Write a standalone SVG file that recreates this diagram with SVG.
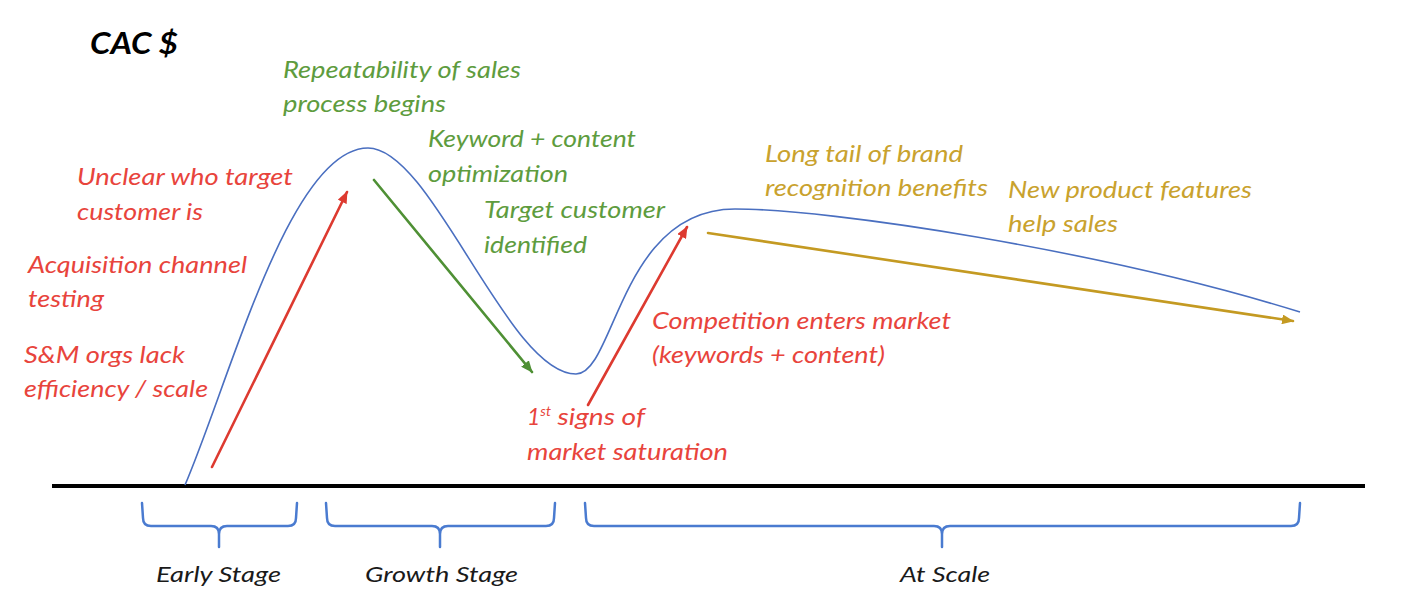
<svg xmlns="http://www.w3.org/2000/svg" width="1410" height="598" viewBox="0 0 1410 598">
<style>
  text { font-family: Lato, "Open Sans", "Liberation Sans", sans-serif; font-style: italic; font-size: 23px; }
  .red { fill: #E8443C; }
  .green { fill: #5E9C3E; }
  .gold { fill: #C9A22E; }
  .stage { fill: #1a1a1a; font-size: 21px; }
  .title { fill: #000; font-weight: bold; font-size: 30px; }
  .brace { fill: none; stroke: #4A7BD0; stroke-width: 2.5; stroke-linecap: round; stroke-linejoin: round; }
  .curve { fill: none; stroke: #4A6FC0; stroke-width: 1.6; }
  .arr { fill: none; stroke-width: 2.6; stroke-linecap: round; }
</style>
<defs>
  <marker id="hRed" viewBox="0 0 12 10" refX="11" refY="5" markerWidth="12" markerHeight="10" markerUnits="userSpaceOnUse" orient="auto">
    <path d="M0,0 L12,5 L0,10 Z" fill="#DD3A30"/>
  </marker>
  <marker id="hGreen" viewBox="0 0 12 10" refX="11" refY="5" markerWidth="12" markerHeight="10" markerUnits="userSpaceOnUse" orient="auto">
    <path d="M0,0 L12,5 L0,10 Z" fill="#4F9035"/>
  </marker>
  <marker id="hGold" viewBox="0 0 12 10" refX="11" refY="5" markerWidth="12" markerHeight="10" markerUnits="userSpaceOnUse" orient="auto">
    <path d="M0,0 L12,5 L0,10 Z" fill="#C49A22"/>
  </marker>
</defs>
<rect width="1410" height="598" fill="#fff"/>

<g id="axis">
  <line x1="52" y1="486" x2="1365" y2="486" stroke="#000" stroke-width="4"/>
</g>

<g id="cac-curve">
  <path class="curve" d="M185,485 C230,380 290,148 368,148 C432,148 508,374 576,374 C615,374 620,209 735,209 C830,209 1100,250 1300,312"/>
</g>

<g id="connectors">
  <line class="arr" x1="212" y1="467" x2="347" y2="192" stroke="#DD3A30" marker-end="url(#hRed)"/>
  <line class="arr" x1="374" y1="180" x2="532" y2="372" stroke="#4F9035" marker-end="url(#hGreen)"/>
  <line class="arr" x1="588" y1="405" x2="687" y2="227" stroke="#DD3A30" marker-end="url(#hRed)"/>
  <line class="arr" x1="708" y1="233" x2="1293" y2="321" stroke="#C49A22" marker-end="url(#hGold)"/>
</g>

<g id="title">
  <text class="title" x="90" y="54" textLength="88" lengthAdjust="spacingAndGlyphs">CAC $</text>
</g>

<g id="label-repeatability">
  <text class="green" x="283" y="78" textLength="238" lengthAdjust="spacingAndGlyphs">Repeatability of sales</text>
  <text class="green" x="283" y="112" textLength="163" lengthAdjust="spacingAndGlyphs">process begins</text>
</g>
<g id="label-keyword">
  <text class="green" x="428" y="147" textLength="208" lengthAdjust="spacingAndGlyphs">Keyword + content</text>
  <text class="green" x="428" y="182" textLength="140" lengthAdjust="spacingAndGlyphs">optimization</text>
</g>
<g id="label-target">
  <text class="green" x="484" y="218" textLength="181" lengthAdjust="spacingAndGlyphs">Target customer</text>
  <text class="green" x="484" y="253" textLength="103" lengthAdjust="spacingAndGlyphs">identified</text>
</g>
<g id="label-unclear">
  <text class="red" x="77" y="185" textLength="216" lengthAdjust="spacingAndGlyphs">Unclear who target</text>
  <text class="red" x="77" y="220" textLength="126" lengthAdjust="spacingAndGlyphs">customer is</text>
</g>
<g id="label-acquisition">
  <text class="red" x="28" y="273" textLength="219" lengthAdjust="spacingAndGlyphs">Acquisition channel</text>
  <text class="red" x="28" y="307" textLength="76" lengthAdjust="spacingAndGlyphs">testing</text>
</g>
<g id="label-sm">
  <text class="red" x="24" y="363" textLength="161" lengthAdjust="spacingAndGlyphs">S&amp;M orgs lack</text>
  <text class="red" x="24" y="397" textLength="184" lengthAdjust="spacingAndGlyphs">efficiency / scale</text>
</g>
<g id="label-saturation">
  <text class="red" x="527" y="425" font-size="24">1<tspan font-size="14" dy="-9">st</tspan><tspan dy="9" textLength="94" lengthAdjust="spacingAndGlyphs"> signs of</tspan></text>
  <text class="red" x="527" y="460" textLength="201" lengthAdjust="spacingAndGlyphs">market saturation</text>
</g>
<g id="label-competition">
  <text class="red" x="652" y="329" textLength="299" lengthAdjust="spacingAndGlyphs">Competition enters market</text>
  <text class="red" x="652" y="363" textLength="233" lengthAdjust="spacingAndGlyphs">(keywords + content)</text>
</g>
<g id="label-longtail">
  <text class="gold" x="765" y="162" textLength="198" lengthAdjust="spacingAndGlyphs">Long tail of brand</text>
  <text class="gold" x="765" y="196" textLength="223" lengthAdjust="spacingAndGlyphs">recognition benefits</text>
</g>
<g id="label-newproduct">
  <text class="gold" x="1008" y="198" textLength="244" lengthAdjust="spacingAndGlyphs">New product features</text>
  <text class="gold" x="1008" y="232" textLength="110" lengthAdjust="spacingAndGlyphs">help sales</text>
</g>

<g id="stage-early">
  <path class="brace" d="M142,503 L143,518 Q143,526 151,526 L211,526 Q219,526 219,534 L219,547 M219,534 Q219,526 227,526 L288,526 Q296,526 296,518 L297,503"/>
  <text class="stage" x="156" y="582" textLength="125" lengthAdjust="spacingAndGlyphs">Early Stage</text>
</g>
<g id="stage-growth">
  <path class="brace" d="M326,503 L327,518 Q327,526 335,526 L432,526 Q440,526 440,534 L440,547 M440,534 Q440,526 448,526 L546,526 Q554,526 554,518 L555,503"/>
  <text class="stage" x="365" y="582" textLength="153" lengthAdjust="spacingAndGlyphs">Growth Stage</text>
</g>
<g id="stage-scale">
  <path class="brace" d="M585,503 L586,518 Q586,526 594,526 L934,526 Q942,526 942,534 L942,547 M942,534 Q942,526 950,526 L1291,526 Q1299,526 1299,518 L1300,503"/>
  <text class="stage" x="900" y="582" textLength="90" lengthAdjust="spacingAndGlyphs">At Scale</text>
</g>
</svg>
